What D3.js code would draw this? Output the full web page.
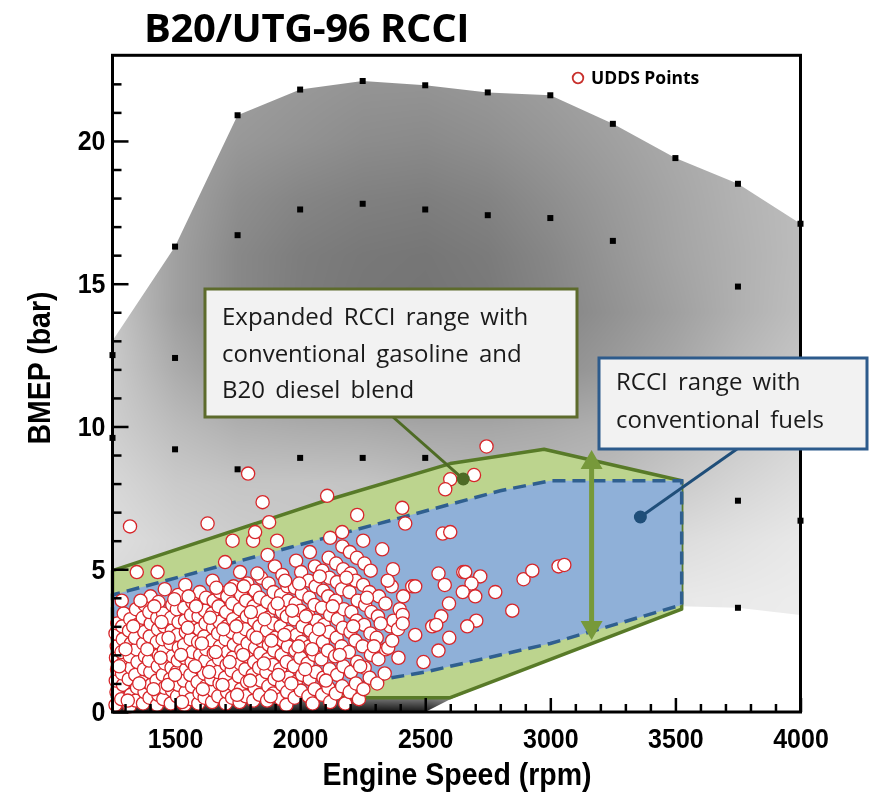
<!DOCTYPE html>
<html>
<head>
<meta charset="utf-8">
<script src="https://cdn.jsdelivr.net/npm/d3@7"></script>
<style>
body { margin: 0; background: #fff; }
#wrap { position: relative; width: 870px; height: 793px; }
#wrap canvas, #wrap svg { position: absolute; left: 0; top: 0; }
</style>
</head>
<body>
<div id="wrap">
  <canvas id="shade" width="870" height="793"></canvas>
  <svg id="chart" width="870" height="793"></svg>
</div>
<script>
const w = 870;
const h = 793;

// axis ticks
const xMajor = [1500, 2000, 2500, 3000, 3500, 4000];
const yMajor = [0, 5, 10, 15, 20];

// gray surface (engine map)
const shadeSpeeds = [1250, 1500, 1750, 2000, 2250, 2500, 2750, 3000, 3250, 3500, 3750, 4000];
const shadeLoads = [0, 0.5, 2, 4, 6, 8, 10, 12, 14, 16, 18, 20, 22.5];
const shadeGrid = [
  [25, 20, 15, 10, 10, 20, 120, 200, 220, 230, 235, 240],
  [150, 140, 130, 120, 115, 120, 170, 210, 225, 230, 235, 240],
  [205, 205, 200, 200, 200, 200, 205, 215, 225, 230, 235, 238],
  [215, 212, 210, 208, 206, 206, 210, 218, 226, 232, 234, 236],
  [222, 212, 205, 200, 198, 196, 196, 200, 210, 220, 226, 232],
  [215, 202, 197, 197, 196, 190, 185, 185, 190, 202, 213, 222],
  [206, 188, 176, 172, 170, 166, 166, 170, 176, 188, 200, 212],
  [202, 172, 152, 142, 136, 132, 136, 144, 155, 168, 185, 198],
  [198, 160, 136, 124, 118, 116, 120, 132, 146, 160, 176, 190],
  [194, 160, 136, 125, 120, 118, 123, 135, 150, 164, 176, 188],
  [192, 163, 142, 133, 128, 126, 131, 142, 154, 166, 178, 188],
  [190, 166, 152, 146, 140, 138, 143, 151, 160, 170, 179, 188],
  [190, 170, 160, 154, 150, 150, 154, 160, 167, 174, 182, 190]
];

// outline of the mapped area
const envelope = [
  [1250, 0], [1250, 13.0], [1500, 16.3], [1750, 20.9], [2000, 21.8], [2250, 22.1],
  [2500, 21.95], [2750, 21.7], [3000, 21.6], [3250, 20.6], [3500, 19.4], [3750, 18.5],
  [4000, 17.1], [4000, 3.4], [3750, 3.65], [3525, 3.7], [2600, 0.45], [2500, 0]
];

// measured operating points (black dots)
const mapPoints = [
  [1500, 16.3], [1750, 20.9], [2000, 21.8], [2250, 22.1], [2500, 21.95], [2750, 21.7],
  [3000, 21.6], [3250, 20.6], [3500, 19.4], [3750, 18.5], [4000, 17.1],
  [1750, 16.7], [2000, 17.6], [2250, 17.8], [2500, 17.6], [2750, 17.4], [3000, 17.3],
  [3250, 16.5], [3750, 14.9], [1250, 12.5], [1500, 12.4], [1250, 9.6], [1500, 9.2],
  [1750, 8.5], [2000, 8.9], [2250, 8.9], [2500, 8.9], [3750, 7.4], [4000, 6.7], [3750, 3.65]
];

// RCCI ranges
const expandedRange = [
  [1250, 0.5], [2600, 0.5], [3525, 3.6], [3525, 8.1], [2975, 9.2], [2600, 8.7],
  [2100, 7.4], [1250, 4.95]
];
const conventionalRange = [
  [1250, 0.55], [1750, 0.6], [2100, 0.8], [2500, 1.4], [3000, 2.4], [3525, 3.75],
  [3525, 8.1], [3000, 8.1], [2800, 7.75], [2400, 6.8], [1250, 4.1]
];

// load span arrow and callout anchors
const spanArrow = [[3165, 9.18], [3165, 2.52]];
const expandedAnchor = [2652, 8.16];
const conventionalAnchor = [3360, 6.83];

// UDDS drive cycle points
const uddsPoints = [
  [1262,0.25],[1266,0.7],[1263,1.1],[1268,1.5],[1264,1.9],[1267,2.3],[1262,2.75],[1269,3.1],
  [1285,0.45],[1292,0.95],[1288,1.35],[1294,1.75],[1286,2.1],[1291,2.55],[1289,3.0],[1295,3.45],[1287,3.9],
  [1318,0.2],[1322,0.6],[1315,1.15],[1325,1.55],[1319,1.95],[1324,2.4],[1316,2.85],[1321,3.25],[1320,6.5],
  [1343,0.4],[1348,0.85],[1341,1.3],[1350,1.75],[1346,2.2],[1340,2.6],[1349,3.05],[1344,3.6],[1347,4.9],
  [1372,0.3],[1378,0.7],[1370,1.05],[1376,1.5],[1380,1.95],[1373,2.4],[1377,2.8],[1371,3.3],[1379,3.75],
  [1398,0.5],[1404,0.95],[1401,1.4],[1396,1.8],[1405,2.2],[1399,2.65],[1403,3.1],[1397,3.5],[1402,4.05],
  [1428,0.25],[1433,0.6],[1426,1.1],[1431,1.6],[1435,2.0],[1427,2.45],[1432,2.9],[1429,3.3],[1434,3.85],[1430,4.9],
  [1453,0.45],[1458,0.85],[1451,1.3],[1460,1.7],[1455,2.15],[1450,2.55],[1457,3.0],[1452,3.45],[1459,4.3],
  [1483,0.3],[1488,0.75],[1480,1.15],[1486,1.55],[1490,1.95],[1482,2.4],[1487,2.85],[1484,3.3],[1489,3.75],
  [1508,0.55],[1513,0.95],[1506,1.4],[1511,1.8],[1515,2.25],[1509,2.7],[1514,3.15],[1507,3.6],[1512,4.1],
  [1538,0.25],[1542,0.7],[1535,1.1],[1544,1.5],[1539,1.9],[1536,2.35],[1543,2.8],[1540,3.2],[1537,3.65],[1541,4.45],
  [1563,0.45],[1568,0.9],[1561,1.3],[1566,1.75],[1570,2.1],[1562,2.55],[1567,3.0],[1564,3.4],[1569,3.85],
  [1593,0.3],[1598,0.65],[1590,1.05],[1596,1.55],[1600,2.0],[1592,2.45],[1597,2.9],[1594,3.35],[1599,4.2],[1630,6.6],
  [1618,0.5],[1623,0.9],[1616,1.35],[1621,1.8],[1625,2.2],[1617,2.65],[1622,3.1],[1619,3.55],[1624,4.0],
  [1648,0.35],[1653,0.75],[1645,1.15],[1651,1.6],[1655,2.05],[1647,2.5],[1652,2.95],[1649,3.45],[1654,3.9],[1650,4.6],
  [1673,0.55],[1678,1.0],[1671,1.4],[1676,1.85],[1680,2.3],[1672,2.75],[1677,3.15],[1674,3.7],[1679,4.2],
  [1703,0.3],[1708,0.7],[1700,1.2],[1706,1.65],[1710,2.1],[1702,2.55],[1707,3.0],[1704,3.5],[1709,4.05],[1700,5.25],
  [1728,0.5],[1733,0.95],[1726,1.45],[1731,1.9],[1735,2.35],[1727,2.8],[1732,3.25],[1729,3.8],[1734,4.4],[1730,6.0],
  [1758,0.35],[1763,0.8],[1755,1.25],[1761,1.7],[1765,2.15],[1757,2.6],[1762,3.1],[1759,3.6],[1764,4.1],[1760,4.9],
  [1783,0.55],[1788,1.05],[1781,1.5],[1786,1.95],[1790,2.4],[1782,2.9],[1787,3.35],[1784,3.9],[1789,4.5],[1792,8.35],
  [1813,0.4],[1818,0.85],[1810,1.3],[1816,1.75],[1820,2.25],[1812,2.7],[1817,3.2],[1814,3.7],[1819,4.25],[1812,6.0],[1820,6.3],
  [1838,0.6],[1843,1.1],[1836,1.55],[1841,2.05],[1845,2.5],[1837,3.0],[1842,3.5],[1839,4.0],[1844,4.7],[1850,7.35],
  [1868,0.4],[1873,0.9],[1865,1.4],[1871,1.85],[1875,2.35],[1867,2.85],[1872,3.3],[1869,3.85],[1874,4.5],[1870,5.5],
  [1893,0.65],[1898,1.15],[1891,1.65],[1896,2.15],[1900,2.6],[1892,3.1],[1897,3.65],[1894,4.2],[1899,5.1],[1876,6.65],
  [1923,0.45],[1928,0.95],[1920,1.5],[1926,2.0],[1930,2.5],[1922,3.0],[1927,3.5],[1924,4.1],[1929,4.8],[1908,6.0],
  [1948,0.7],[1953,1.2],[1946,1.75],[1951,2.3],[1955,2.8],[1947,3.35],[1952,3.9],[1949,4.4],[1945,0.25],
  [1978,0.5],[1983,1.05],[1975,1.6],[1981,2.15],[1985,2.7],[1977,3.25],[1982,3.8],[1979,4.35],[1984,5.3],
  [2003,0.75],[2008,1.3],[2001,1.9],[2006,2.45],[2010,3.0],[2002,3.55],[2007,4.15],[2004,4.9],[2108,7.57],
  [2033,0.55],[2038,1.15],[2030,1.7],[2036,2.3],[2040,2.85],[2032,3.4],[2037,4.0],[2034,4.6],[2039,5.6],
  [2058,0.8],[2063,1.4],[2056,2.0],[2061,2.6],[2065,3.2],[2057,3.75],[2062,4.4],[2059,5.1],[2050,0.3],
  [2088,0.6],[2093,1.2],[2085,1.85],[2091,2.45],[2095,3.05],[2087,3.65],[2092,4.25],[2089,4.95],[2120,6.1],
  [2113,0.85],[2118,1.5],[2111,2.15],[2116,2.8],[2120,3.4],[2112,4.05],[2117,4.7],[2114,5.4],[2120,0.35],
  [2143,0.65],[2148,1.3],[2140,1.95],[2146,2.6],[2150,3.25],[2142,3.9],[2147,4.55],[2144,5.2],[2168,6.3],
  [2168,0.9],[2173,1.6],[2166,2.3],[2171,2.95],[2175,3.6],[2167,4.3],[2172,5.0],[2169,5.8],[2180,0.3],
  [2198,0.7],[2203,1.4],[2195,2.1],[2201,2.8],[2205,3.5],[2197,4.2],[2202,4.85],[2199,5.6],[2228,6.9],
  [2223,1.0],[2228,1.75],[2221,2.5],[2226,3.2],[2230,3.9],[2222,4.6],[2227,5.4],[2235,0.45],
  [2253,0.8],[2258,1.55],[2250,2.3],[2256,3.05],[2260,3.75],[2252,4.45],[2257,5.2],[2252,6.0],
  [2278,1.2],[2283,2.0],[2281,2.75],[2285,3.5],[2277,4.2],[2282,4.95],
  [2308,1.0],[2313,1.85],[2306,2.6],[2311,3.35],[2315,4.05],[2328,5.7],
  [2338,1.35],[2343,2.2],[2352,2.25],[2360,3.0],[2341,3.8],
  [2368,2.5],[2373,3.2],[2366,4.4],[2371,5.0],
  [2393,1.9],[2398,3.6],[2391,2.9],
  [1277,1.6],[1302,2.2],[1311,0.4],[1333,3.0],[1357,1.0],[1362,3.9],[1389,2.2],[1414,0.8],
  [1417,3.7],[1442,1.9],[1446,3.15],[1471,0.95],[1474,2.6],[1497,3.95],[1500,1.3],[1524,2.0],
  [1528,0.35],[1551,2.95],[1554,4.05],[1580,1.6],[1584,3.7],[1607,2.4],[1611,0.8],[1636,1.4],
  [1640,3.3],[1662,2.1],[1665,4.35],[1690,0.95],[1693,2.9],[1718,1.75],[1721,4.3],[1745,3.0],
  [1748,0.6],[1772,2.0],[1775,4.4],[1800,1.1],[1803,3.5],[1826,2.6],[1829,4.85],[1855,1.7],
  [1858,3.25],[1882,0.55],[1885,2.5],[1910,3.8],[1913,1.3],[1937,2.7],[1940,4.6],[1965,1.0],
  [1968,3.55],[1993,2.3],[1996,4.5],[2020,1.5],[2023,3.35],[2048,2.2],[2075,2.9],[2078,4.75],
  [2103,1.1],[2130,3.7],[2158,2.0],[2185,4.7],[2212,3.0],[2240,1.6],[2267,4.0],[2295,2.3],
  [2322,3.1],[2350,4.6],
  [2745,9.3],[2600,8.15],[2695,8.3],[2580,7.8],[2408,7.15],[2420,6.6],[2570,6.25],[2600,6.3],
  [2553,4.85],[2652,4.9],[2660,4.9],[2720,4.75],[2578,4.45],[2685,4.5],[2650,4.2],[2700,4.05],
  [2780,4.2],[2893,4.65],[2928,4.95],[3033,5.1],[3056,5.15],[2448,4.4],[2460,4.4],[2412,4.05],
  [2595,3.8],[2410,3.4],[2410,3.1],[2564,3.35],[2528,3.0],[2544,3.05],[2704,3.2],[2668,3.0],
  [2848,3.55],[2460,2.7],[2596,2.6],[2553,2.15],[2493,1.75]
];

const x = d3.scaleLinear().domain([1250, 4000]).range([112.5, 800.5]);
const y = d3.scaleLinear().domain([0, 23]).range([712, 55.3]);

// ---- shaded surface on canvas ----
function shadeAt(s, l) {
  let i = Math.max(0, Math.min(shadeSpeeds.length - 2, d3.bisectRight(shadeSpeeds, s) - 1));
  let j = Math.max(0, Math.min(shadeLoads.length - 2, d3.bisectRight(shadeLoads, l) - 1));
  let tx = Math.max(0, Math.min(1, (s - shadeSpeeds[i]) / (shadeSpeeds[i + 1] - shadeSpeeds[i])));
  let ty = Math.max(0, Math.min(1, (l - shadeLoads[j]) / (shadeLoads[j + 1] - shadeLoads[j])));
  const g = shadeGrid;
  return (1 - ty) * ((1 - tx) * g[j][i] + tx * g[j][i + 1]) + ty * ((1 - tx) * g[j + 1][i] + tx * g[j + 1][i + 1]);
}

const canvas = document.getElementById("shade");
const ctx = canvas.getContext("2d");
ctx.fillStyle = "#fff";
ctx.fillRect(0, 0, w, h);
const off = document.createElement("canvas");
off.width = w; off.height = h;
const octx = off.getContext("2d");
const img = octx.createImageData(w, h);
for (let py = 50; py < 716; py++) {
  for (let px = 108; px < 806; px++) {
    const v = Math.round(shadeAt(x.invert(px), y.invert(py)));
    const k = (py * w + px) * 4;
    img.data[k] = v; img.data[k + 1] = v; img.data[k + 2] = v; img.data[k + 3] = 255;
  }
}
octx.putImageData(img, 0, 0);
ctx.save();
ctx.beginPath();
d3.line().x(d => x(d[0])).y(d => y(d[1])).context(ctx)(envelope);
ctx.closePath();
ctx.clip();
ctx.drawImage(off, 0, 0);
ctx.restore();

// ---- svg layer ----
const svg = d3.select("#chart");
const line = d3.line().x(d => x(d[0])).y(d => y(d[1]));

svg.selectAll(".mp")
  .data(mapPoints)
  .enter().append("rect")
  .attr("class", "mp")
  .attr("x", d => x(d[0]) - 3)
  .attr("y", d => y(d[1]) - 3)
  .attr("width", 6)
  .attr("height", 6)
  .attr("fill", "#000");

svg.append("path")
  .attr("d", line(expandedRange) + "Z")
  .attr("fill", "#bcd48e")
  .attr("stroke", "#587a28")
  .attr("stroke-width", 3.5)
  .attr("stroke-linejoin", "round");

svg.append("path")
  .attr("d", line(conventionalRange) + "Z")
  .attr("fill", "#8fb0d8")
  .attr("stroke", "#2f5f8f")
  .attr("stroke-width", 3.5)
  .attr("stroke-dasharray", "13,7");

svg.selectAll(".udds")
  .data(uddsPoints)
  .enter().append("circle")
  .attr("class", "udds")
  .attr("cx", d => x(d[0]))
  .attr("cy", d => y(d[1]))
  .attr("r", 6.6)
  .attr("fill", "#fff")
  .attr("stroke", "#d7262a")
  .attr("stroke-width", 1.3);

// double arrow
const ax = x(spanArrow[0][0]);
const aTop = y(spanArrow[0][1]);
const aBot = y(spanArrow[1][1]);
svg.append("line")
  .attr("x1", ax).attr("x2", ax)
  .attr("y1", aTop + 14).attr("y2", aBot - 14)
  .attr("stroke", "#77993a").attr("stroke-width", 5);
svg.append("path")
  .attr("d", `M${ax},${aTop} L${ax - 11},${aTop + 19} L${ax + 11},${aTop + 19} Z M${ax},${aBot} L${ax - 11},${aBot - 19} L${ax + 11},${aBot - 19} Z`)
  .attr("fill", "#77993a");

// frame and ticks
const axisFont = "'Liberation Sans', Arial, sans-serif";
svg.append("rect")
  .attr("x", x(1250)).attr("y", y(23))
  .attr("width", x(4000) - x(1250)).attr("height", y(0) - y(23))
  .attr("fill", "none").attr("stroke", "#000").attr("stroke-width", 3);

const xMinor = svg.append("g").attr("transform", `translate(0,${y(0)})`)
  .call(d3.axisBottom(x).tickValues(d3.range(1300, 4000, 100).filter(v => v % 500 !== 0)).tickSize(-8).tickFormat(""));
const xAx = svg.append("g").attr("transform", `translate(0,${y(0)})`)
  .call(d3.axisBottom(x).tickValues(xMajor).tickSize(-14).tickPadding(14).tickFormat(d3.format("d")));
const yMinor = svg.append("g").attr("transform", `translate(${x(1250)},0)`)
  .call(d3.axisLeft(y).tickValues(d3.range(1, 23).filter(v => v % 5 !== 0)).tickSize(-9).tickFormat(""));
const yAx = svg.append("g").attr("transform", `translate(${x(1250)},0)`)
  .call(d3.axisLeft(y).tickValues(yMajor).tickSize(-16).tickPadding(7));
[xMinor, xAx, yMinor, yAx].forEach(g => {
  g.select(".domain").remove();
  g.selectAll("line").attr("stroke", "#000").attr("stroke-width", 2.5);
});
[xAx, yAx].forEach(g => {
  g.selectAll("text")
    .attr("font-family", axisFont)
    .attr("font-weight", "bold")
    .attr("font-size", 25)
    .attr("fill", "#000")
    .attr("transform", "scale(1,1.12)");
});

svg.append("text")
  .attr("x", 457).attr("y", 0)
  .attr("transform", "translate(0,785) scale(1,1.1)")
  .attr("text-anchor", "middle")
  .attr("font-family", axisFont).attr("font-weight", "bold").attr("font-size", 28.5)
  .text("Engine Speed (rpm)");

svg.append("text")
  .attr("transform", "translate(50,368) rotate(-90) scale(1,1.1)")
  .attr("text-anchor", "middle")
  .attr("font-family", axisFont).attr("font-weight", "bold").attr("font-size", 28.5)
  .text("BMEP (bar)");

// title and legend
const calloutFont = "'Open Sans', 'Noto Sans', sans-serif";
svg.append("text")
  .attr("x", 144).attr("y", 42)
  .attr("font-family", calloutFont).attr("font-weight", "bold").attr("font-size", 40)
  .attr("letter-spacing", -0.4)
  .text("B20/UTG-96 RCCI");

svg.append("circle")
  .attr("cx", 578).attr("cy", 78).attr("r", 5.3)
  .attr("fill", "#fff").attr("stroke", "#c8302c").attr("stroke-width", 1.8);
svg.append("text")
  .attr("x", 591).attr("y", 84)
  .attr("font-family", calloutFont).attr("font-weight", "bold").attr("font-size", 17.5)
  .text("UDDS Points");

// callouts
function callout(box, lines, stroke, anchor, from, dotColor) {
  svg.append("line")
    .attr("x1", from[0]).attr("y1", from[1])
    .attr("x2", x(anchor[0])).attr("y2", y(anchor[1]))
    .attr("stroke", dotColor).attr("stroke-width", 3);
  svg.append("circle")
    .attr("cx", x(anchor[0])).attr("cy", y(anchor[1])).attr("r", 6.5)
    .attr("fill", dotColor);
  svg.append("rect")
    .attr("x", box.x).attr("y", box.y).attr("width", box.w).attr("height", box.h)
    .attr("fill", "#f2f2f2").attr("stroke", stroke).attr("stroke-width", 3);
  svg.append("g").selectAll("text")
    .data(lines)
    .enter().append("text")
    .attr("x", box.tx)
    .attr("y", (d, i) => box.ty + i * box.lh)
    .attr("font-family", calloutFont).attr("font-size", 24)
    .attr("fill", "#1a1a1a")
    .attr("word-spacing", 4)
    .text(d => d);
}

callout({ x: 205, y: 289, w: 372, h: 128, tx: 222, ty: 325, lh: 36.5 },
  ["Expanded RCCI range with", "conventional gasoline and", "B20 diesel blend"],
  "#5d6b2c", expandedAnchor, [393, 417], "#4e6b25");

callout({ x: 599, y: 358, w: 268, h: 91, tx: 616, ty: 390, lh: 38 },
  ["RCCI range with", "conventional fuels"],
  "#2d5b8c", conventionalAnchor, [737, 449], "#1f4e79");
</script>
</body>
</html>
